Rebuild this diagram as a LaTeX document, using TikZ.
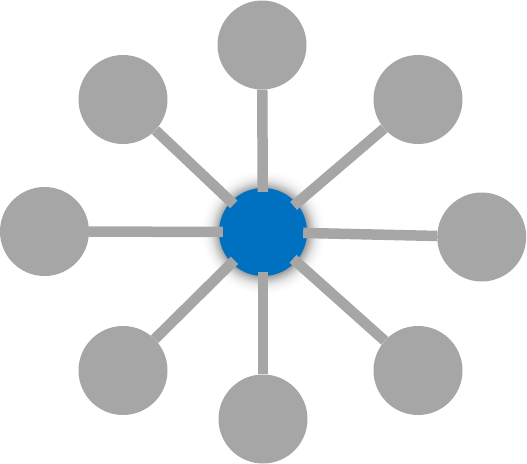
\documentclass[tikz,border=0pt]{standalone}
\usetikzlibrary{calc}
\definecolor{nodegray}{HTML}{A6A6A6}
\definecolor{hubblue}{HTML}{0070C0}
\pgfdeclareradialshading{hubglow}{\pgfpointorigin}{color(0bp)=(black!40); color(17.5bp)=(black!40); color(19bp)=(black!25); color(21bp)=(black!10); color(23bp)=(black!3); color(25bp)=(white); color(50bp)=(white)}
\tikzset{
  leaf/.style={circle, fill=nodegray, draw=none, minimum size=89pt, inner sep=0pt},
  hub/.style={circle, fill=hubblue, draw=none, minimum size=88pt, inner sep=0pt},
  link/.style={draw=nodegray, line width=10.5pt, line cap=butt, shorten <=-4pt}
}
\begin{document}
\begin{tikzpicture}[x=1pt, y=-1pt]
\useasboundingbox (0,0) rectangle (527,463);
\coordinate (cc) at (263,232);
\shade[shading=hubglow] (cc) circle (62pt);
\node[hub] (c) at (cc) {};
\node[leaf] (t)  at (262,45) {};
\node[leaf] (tl) at (123,99.5) {};
\node[leaf] (tr) at (418,99.5) {};
\node[leaf] (l)  at (44.5,231.5) {};
\node[leaf] (r)  at (481.7,237) {};
\node[leaf] (bl) at (123,370.5) {};
\node[leaf] (b)  at (263,419) {};
\node[leaf] (br) at (418,370.5) {};
\foreach \n in {t,tl,tr,l,r,bl,b,br} {
  \draw[link] (c) -- (\n);
}
\end{tikzpicture}
\end{document}
